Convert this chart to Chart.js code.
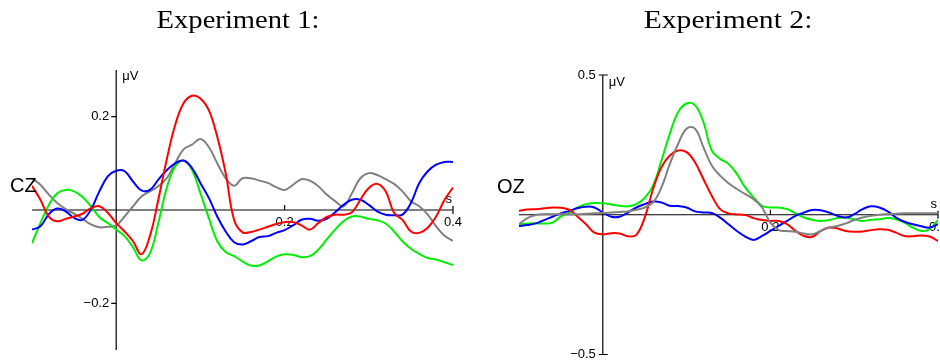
<!DOCTYPE html>
<html>
<head>
<meta charset="utf-8">
<script src="https://cdn.jsdelivr.net/npm/chart.js@4.4.1/dist/chart.umd.min.js"></script>
<style>
html,body{margin:0;padding:0;background:#fff;width:940px;height:360px;overflow:hidden;}
#wrap{position:relative;width:940px;height:360px;}
canvas{position:absolute;top:0;}
.title{position:absolute;top:7px;font-family:"Liberation Serif","Times New Roman",serif;font-size:26px;line-height:26px;color:#000;white-space:nowrap;}
.site{position:absolute;font-family:"Liberation Sans",Arial,sans-serif;font-size:20px;line-height:20px;color:#000;white-space:nowrap;}
</style>
</head>
<body>
<div id="wrap">
  <canvas id="c1" width="470" height="360" style="left:0px;width:470px;height:360px;"></canvas>
  <canvas id="c2" width="470" height="360" style="left:470px;width:470px;height:360px;"></canvas>
  <div class="title" id="t1" style="left:238px;transform:translateX(-50%) scaleX(1.1);">Experiment 1:</div>
  <div class="title" id="t2" style="left:728px;transform:translateX(-50%) scaleX(1.14);">Experiment 2:</div>
  <div class="site" style="left:10px;top:175px;">CZ</div>
  <div class="site" style="left:497px;top:176px;">OZ</div>
</div>
<script>
// ---- time axis (s) ----
const time = [-0.10,-0.09,-0.08,-0.07,-0.06,-0.05,-0.04,-0.03,-0.02,-0.01,
  0.00,0.01,0.02,0.03,0.04,0.05,0.06,0.07,0.08,0.09,
  0.10,0.11,0.12,0.13,0.14,0.15,0.16,0.17,0.18,0.19,
  0.20,0.21,0.22,0.23,0.24,0.25,0.26,0.27,0.28,0.29,
  0.30,0.31,0.32,0.33,0.34,0.35,0.36,0.37,0.38,0.39,0.40];

// ---- Experiment 1, CZ (µV) ----
const cz_red = [0.052,0.022,-0.014,-0.024,-0.019,-0.014,-0.008,0.004,0.008,-0.006,
  -0.028,-0.046,-0.067,-0.095,-0.056,0.022,0.108,0.182,0.229,0.245,
  0.239,0.214,0.157,0.079,-0.021,-0.048,-0.047,-0.042,-0.036,-0.030,
  -0.026,-0.026,-0.033,-0.042,-0.028,-0.015,-0.010,-0.010,-0.005,0.022,
  0.047,0.056,0.040,-0.006,-0.021,-0.046,-0.049,-0.038,-0.014,0.022,0.048];
const cz_gray = [0.068,0.054,0.033,0.015,0.002,-0.008,-0.019,-0.031,-0.037,-0.036,
  -0.033,-0.014,0.008,0.029,0.040,0.051,0.068,0.100,0.130,0.140,
  0.152,0.135,0.100,0.068,0.052,0.068,0.068,0.063,0.058,0.049,
  0.043,0.054,0.066,0.063,0.051,0.033,0.019,0.008,0.036,0.068,
  0.079,0.075,0.066,0.056,0.040,0.019,0.008,-0.010,-0.035,-0.055,-0.066];
const cz_blue = [-0.042,-0.035,-0.009,0.003,-0.003,-0.017,-0.021,0.001,0.040,0.072,
  0.084,0.083,0.061,0.042,0.043,0.065,0.085,0.100,0.106,0.090,
  0.058,0.026,-0.014,-0.046,-0.069,-0.074,-0.067,-0.058,-0.056,-0.049,
  -0.043,-0.033,-0.021,-0.019,-0.023,-0.019,-0.005,0.011,0.022,0.022,
  0.011,-0.003,-0.010,-0.011,-0.010,0.015,0.058,0.083,0.097,0.103,0.103];
const cz_green = [-0.071,-0.028,0.011,0.036,0.043,0.040,0.028,0.008,-0.015,-0.028,
  -0.042,-0.056,-0.080,-0.108,-0.093,-0.028,0.047,0.093,0.106,0.086,
  0.036,-0.017,-0.067,-0.090,-0.099,-0.110,-0.119,-0.119,-0.110,-0.100,
  -0.095,-0.096,-0.101,-0.099,-0.085,-0.063,-0.042,-0.024,-0.014,-0.014,
  -0.019,-0.022,-0.029,-0.046,-0.067,-0.083,-0.094,-0.103,-0.106,-0.112,-0.118];

// ---- Experiment 2, OZ (µV) ----
const oz_red = [0.014,0.019,0.020,0.023,0.026,0.025,0.018,-0.007,-0.034,-0.064,
  -0.070,-0.066,-0.067,-0.077,-0.072,-0.010,0.092,0.170,0.212,0.230,
  0.224,0.188,0.128,0.068,0.020,0.005,0.001,-0.001,-0.012,-0.019,
  -0.022,-0.022,-0.034,-0.058,-0.076,-0.079,-0.058,-0.046,-0.049,-0.058,
  -0.061,-0.060,-0.055,-0.052,-0.054,-0.064,-0.076,-0.077,-0.074,-0.078,-0.094];
const oz_gray = [-0.034,-0.012,-0.001,0.002,0.002,0.002,0.002,0.002,0.004,0.005,
  0.006,0.008,0.010,0.012,0.018,0.026,0.044,0.098,0.182,0.254,
  0.308,0.308,0.242,0.176,0.140,0.113,0.092,0.074,0.056,0.026,
  -0.028,-0.055,-0.058,-0.061,-0.067,-0.070,-0.058,-0.046,-0.040,-0.031,
  -0.019,-0.010,-0.004,0.000,0.002,0.004,0.005,0.005,0.005,0.005,0.005];
const oz_blue = [-0.040,-0.037,-0.031,-0.019,-0.007,0.005,0.014,0.024,0.029,0.026,
  0.008,-0.007,-0.007,0.008,0.026,0.038,0.047,0.044,0.032,0.031,
  0.026,0.012,0.008,0.006,-0.010,-0.034,-0.058,-0.078,-0.090,-0.076,
  -0.058,-0.040,-0.022,-0.004,0.008,0.017,0.016,0.008,-0.004,-0.010,
  0.002,0.020,0.030,0.026,0.012,-0.010,-0.025,-0.034,-0.041,-0.046,-0.034];
const oz_green = [-0.034,-0.031,-0.031,-0.031,-0.028,-0.006,0.008,0.026,0.038,0.042,
  0.041,0.037,0.032,0.030,0.038,0.060,0.104,0.194,0.290,0.368,
  0.398,0.392,0.332,0.230,0.200,0.182,0.146,0.098,0.062,0.032,
  0.026,0.026,0.020,0.005,-0.010,-0.018,-0.022,-0.019,-0.012,-0.010,
  -0.016,-0.022,-0.018,-0.016,-0.012,-0.016,-0.028,-0.046,-0.058,-0.052,-0.019];

// ---- axis ticks ----
const cz_xTicks = [0.2, 0.4];
const cz_xTickLabels = ["0.2", "0.4"];
const cz_yTicks = [0.2, -0.2];
const cz_yTickLabels = ["0.2", "\u22120.2"];
const oz_xTicks = [0.2, 0.4];
const oz_xTickLabels = ["0.2", "0.4"];
const oz_yTicks = [0.5, -0.5];
const oz_yTickLabels = ["0.5", "\u22120.5"];

const COLORS = {red:'#ff0000', blue:'#0000ff', green:'#00ee00', gray:'#808080'};
const FONT = '13px "Liberation Sans", Arial, sans-serif';

function pts(ys){ return time.map((t,i)=>({x:t, y:ys[i]})); }
function ds(ys, color){
  return {data: pts(ys), borderColor: color, borderWidth: 2, pointRadius: 0,
          tension: 0.4, fill: false};
}

const eegAxes = {
  id: 'eegAxes',
  beforeDatasetsDraw(chart, args, o) {
    const ctx = chart.ctx, xs = chart.scales.x, ys = chart.scales.y;
    const x0 = xs.getPixelForValue(0), y0 = ys.getPixelForValue(0);
    const xL = xs.getPixelForValue(xs.min), xR = xs.getPixelForValue(xs.max);
    const yT = ys.getPixelForValue(ys.max), yB = ys.getPixelForValue(ys.min);
    ctx.save();
    ctx.strokeStyle = '#000';
    ctx.lineWidth = 1.2;
    ctx.beginPath();
    ctx.moveTo(xL, y0); ctx.lineTo(xR, y0);
    ctx.moveTo(x0, yT); ctx.lineTo(x0, yB);
    o.yTicks.forEach((v, i) => {
      const y = ys.getPixelForValue(v);
      if (o.yTickStyle[i] === 'cross') { ctx.moveTo(x0 - 4, y); ctx.lineTo(x0 + 5, y); }
      else { ctx.moveTo(x0 - 5, y); ctx.lineTo(x0, y); }
    });
    o.xTicks.forEach((v, i) => {
      const x = xs.getPixelForValue(v);
      if (o.xTickStyle[i] === 'cross') { ctx.moveTo(x, y0 - 4); ctx.lineTo(x, y0 + 4); }
      else { ctx.moveTo(x, y0 - 5); ctx.lineTo(x, y0); }
    });
    ctx.stroke();
    ctx.fillStyle = '#000';
    ctx.font = FONT;
    ctx.textAlign = 'right'; ctx.textBaseline = 'middle';
    o.yTicks.forEach((v, i) => {
      ctx.fillText(o.yLabels[i], x0 - 7, ys.getPixelForValue(v));
    });
    ctx.textAlign = 'center'; ctx.textBaseline = 'top';
    o.xTicks.forEach((v, i) => {
      ctx.fillText(o.xLabels[i], xs.getPixelForValue(v), y0 + 6);
    });
    ctx.textAlign = 'left'; ctx.textBaseline = 'alphabetic';
    ctx.fillText('\u03bcV', x0 + 6, yT + o.unitDy);
    ctx.textAlign = 'right';
    ctx.fillText('s', xR - 1, y0 - 7);
    ctx.restore();
  }
};

function makeChart(id, sets, ymin, ymax, pad, axOpts) {
  return new Chart(document.getElementById(id), {
    type: 'line',
    data: { datasets: sets },
    options: {
      responsive: false, animation: false, devicePixelRatio: 1,
      layout: { padding: pad },
      plugins: { legend: {display:false}, tooltip: {enabled:false}, title:{display:false}, eegAxes: axOpts },
      scales: {
        x: { type: 'linear', min: -0.1, max: 0.4, display: false },
        y: { type: 'linear', min: ymin, max: ymax, display: false }
      }
    },
    plugins: [eegAxes]
  });
}

makeChart('c1', [
  ds(cz_red, COLORS.red), ds(cz_blue, COLORS.blue), ds(cz_green, COLORS.green), ds(cz_gray, COLORS.gray)
], -0.3, 0.3, {left:32, right:17, top:70, bottom:10}, {
  yTicks: cz_yTicks, yLabels: cz_yTickLabels, yTickStyle: ['left','left'],
  xTicks: cz_xTicks, xLabels: cz_xTickLabels, xTickStyle: ['up','cross'], unitDy: 10
});

makeChart('c2', [
  ds(oz_gray, COLORS.gray), ds(oz_red, COLORS.red), ds(oz_blue, COLORS.blue), ds(oz_green, COLORS.green)
], -0.5, 0.5, {left:49, right:2, top:75, bottom:5.5}, {
  yTicks: oz_yTicks, yLabels: oz_yTickLabels, yTickStyle: ['cross','cross'],
  xTicks: oz_xTicks, xLabels: oz_xTickLabels, xTickStyle: ['up','cross'], unitDy: 11
});
</script>
</body>
</html>
